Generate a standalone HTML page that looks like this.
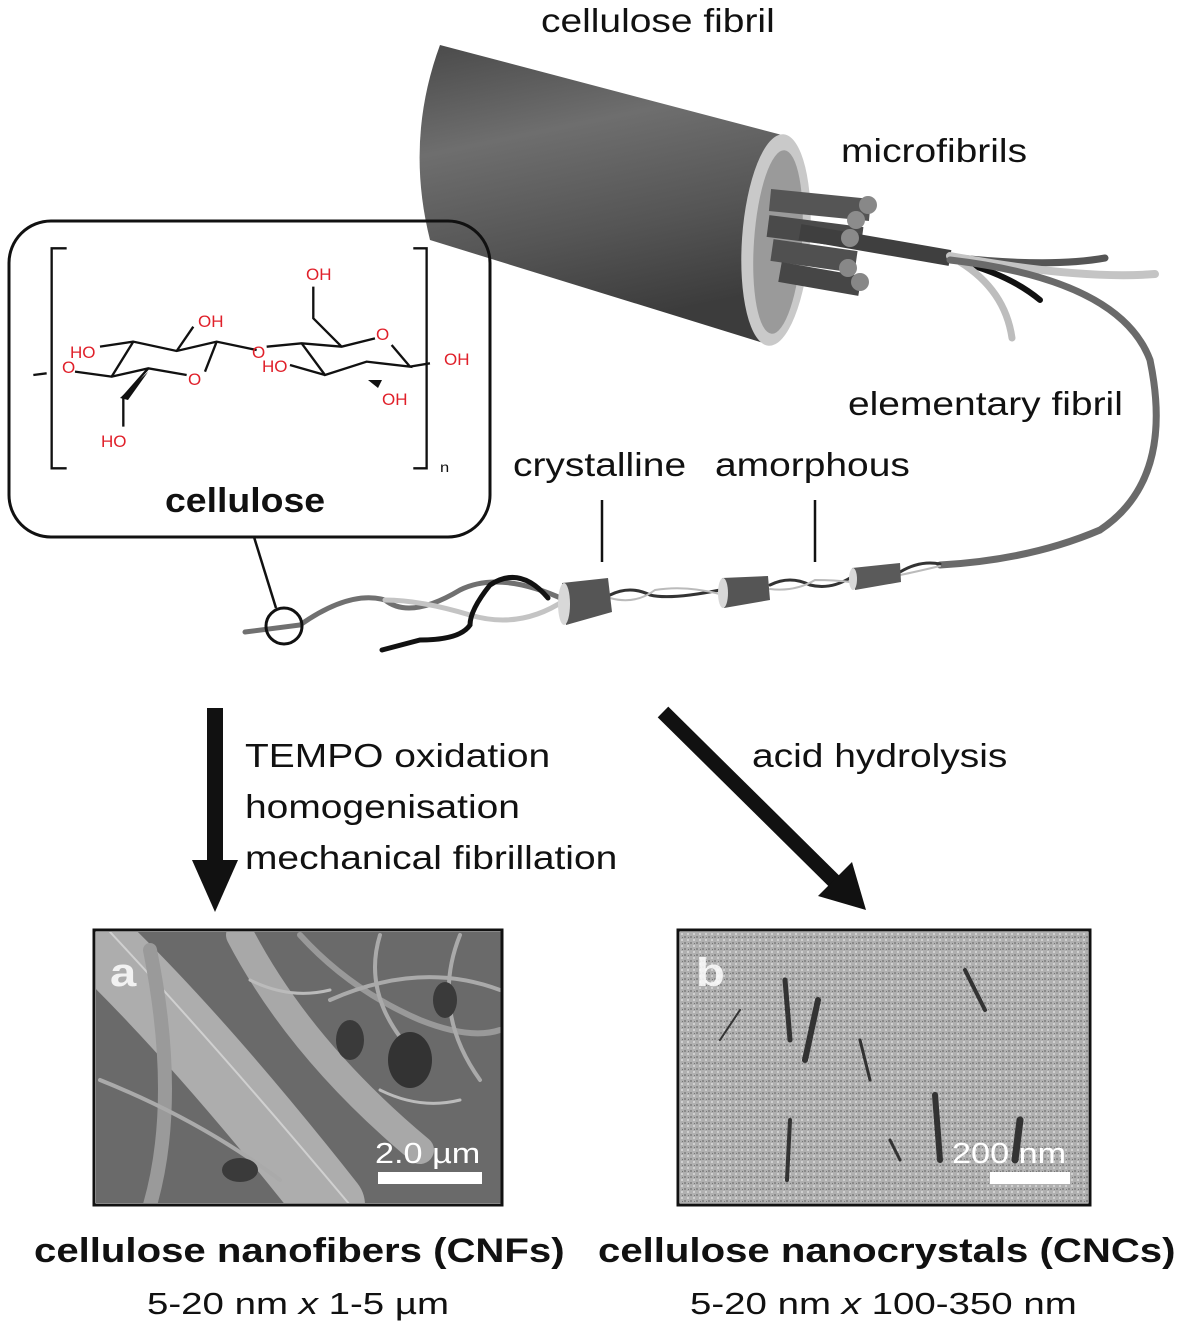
<!DOCTYPE html>
<html><head><meta charset="utf-8">
<style>
html,body{margin:0;padding:0;background:#fff;}
body{width:1177px;height:1330px;position:relative;overflow:hidden;font-family:"Liberation Sans","DejaVu Sans",sans-serif;}
.t{position:absolute;color:#111;font-size:33px;white-space:nowrap;line-height:1;transform-origin:0 0;transform:scaleX(1.18);}
.b{font-weight:bold;}
</style></head><body>
<svg width="1177" height="1330" style="position:absolute;left:0;top:0">
<defs>
<linearGradient id="cyl" x1="0" y1="0" x2="0.25" y2="1">
<stop offset="0" stop-color="#4a4a4a"/><stop offset="0.35" stop-color="#6e6e6e"/><stop offset="0.7" stop-color="#555"/><stop offset="1" stop-color="#3c3c3c"/>
</linearGradient>
<clipPath id="ca"><rect x="96" y="932" width="405" height="271"/></clipPath>
<clipPath id="cb"><rect x="680" y="932" width="408" height="271"/></clipPath>
<pattern id="dots" width="6" height="6" patternUnits="userSpaceOnUse">
<rect width="6" height="6" fill="#b0b0b0"/><rect x="0" y="0" width="2" height="2" fill="#8a8a8a"/><rect x="3" y="3" width="2" height="2" fill="#d0d0d0"/><rect x="4" y="1" width="1" height="1" fill="#777"/>
</pattern>
</defs>

<!-- big cylinder -->
<path d="M440,45 L782,135 L770,345 L430,240 Q405,140 440,45 Z" fill="url(#cyl)"/>
<ellipse cx="776" cy="240" rx="34" ry="106" fill="#c9c9c9" transform="rotate(4 776 240)"/>
<ellipse cx="778" cy="242" rx="24" ry="92" fill="#9a9a9a" transform="rotate(4 778 242)"/>
<g stroke-linecap="butt">
<path d="M770,200 L870,210" stroke="#555" stroke-width="22"/>
<path d="M768,226 L862,238" stroke="#4a4a4a" stroke-width="22"/>
<path d="M772,250 L856,262" stroke="#505050" stroke-width="22"/>
<path d="M780,272 L860,286" stroke="#464646" stroke-width="20"/>
<path d="M800,232 L950,258" stroke="#3f3f3f" stroke-width="16"/>
</g>
<circle cx="868" cy="205" r="9" fill="#888"/><circle cx="856" cy="220" r="9" fill="#8c8c8c"/>
<circle cx="850" cy="238" r="9" fill="#8a8a8a"/><circle cx="848" cy="268" r="9" fill="#888"/><circle cx="860" cy="282" r="9" fill="#878787"/>
<g fill="none" stroke-linecap="round">
<path d="M950,257 Q1050,268 1105,258" stroke="#555" stroke-width="7"/>
<path d="M950,256 Q1080,280 1155,274" stroke="#c4c4c4" stroke-width="8"/>
<path d="M960,262 Q1010,275 1040,300" stroke="#111" stroke-width="6"/>
<path d="M960,262 Q1005,290 1012,338" stroke="#bdbdbd" stroke-width="7"/>
<path d="M950,260 Q1120,280 1150,360 Q1175,480 1100,530 Q1030,560 940,565" stroke="#6a6a6a" stroke-width="7"/>
<path d="M565,600 Q500,570 460,590 Q410,620 385,600 Q350,590 300,625 L245,632" stroke="#707070" stroke-width="5"/>
<path d="M565,600 Q520,630 470,615 Q420,600 385,600" stroke="#c4c4c4" stroke-width="5"/>
<path d="M548,598 Q520,565 490,585 Q470,610 470,625 Q460,640 420,640 L382,650" stroke="#111" stroke-width="5"/>
<path d="M610,595 Q630,585 650,595 Q670,600 720,590 M770,585 Q790,575 810,585 Q830,590 850,578 M900,572 Q920,560 940,564" stroke="#333" stroke-width="3"/>
<path d="M610,598 Q635,605 655,590 Q685,585 720,594 M770,589 Q795,592 815,580 Q835,580 850,582 M900,575 Q915,572 940,566" stroke="#bbb" stroke-width="2"/>
</g>
<path d="M562,583 L608,578 L612,612 L566,625 Z" fill="#555"/>
<ellipse cx="564" cy="604" rx="6" ry="21" fill="#d8d8d8"/>
<path d="M722,578 L768,576 L770,600 L724,608 Z" fill="#555"/>
<ellipse cx="723" cy="593" rx="5" ry="15" fill="#d8d8d8"/>
<path d="M852,568 L900,563 L901,582 L855,590 Z" fill="#5a5a5a"/>
<ellipse cx="853" cy="579" rx="4" ry="11" fill="#d8d8d8"/>
<line x1="602" y1="500" x2="602" y2="562" stroke="#111" stroke-width="2.5"/>
<line x1="815" y1="500" x2="815" y2="562" stroke="#111" stroke-width="2.5"/>
<rect x="9" y="221" width="481" height="316" rx="42" fill="none" stroke="#111" stroke-width="3"/>
<line x1="254" y1="537" x2="276" y2="608" stroke="#111" stroke-width="2.5"/>
<circle cx="284" cy="626" r="18" fill="none" stroke="#111" stroke-width="3"/>
<rect x="207" y="708" width="16" height="155" fill="#111"/>
<polygon points="192,860 238,860 215,912" fill="#111"/>
<line x1="663" y1="712" x2="835" y2="882" stroke="#111" stroke-width="15"/>
<polygon points="818,896 852,862 866,910" fill="#111"/>
<!-- panel a -->
<rect x="96" y="932" width="405" height="271" fill="#6a6a6a"/>
<g fill="none" stroke-linecap="round" clip-path="url(#ca)">
<path d="M96,940 Q200,1040 330,1205" stroke="#b8b8b8" stroke-width="70" opacity="0.85"/>
<path d="M110,932 Q220,1050 350,1205" stroke="#d0d0d0" stroke-width="2"/>
<path d="M240,935 Q300,1050 420,1150" stroke="#a8a8a8" stroke-width="28"/>
<path d="M300,935 Q350,990 420,1020 Q470,1040 500,1030" stroke="#999" stroke-width="6"/>
<path d="M150,950 Q180,1100 150,1205" stroke="#9a9a9a" stroke-width="14"/>
<path d="M380,935 Q360,1000 420,1060 M460,935 Q430,1010 480,1080 M330,1000 Q420,960 500,990 M100,1080 Q200,1120 280,1180" stroke="#aaa" stroke-width="4"/>
<path d="M250,980 Q290,1000 330,990 M380,1090 Q420,1110 460,1100" stroke="#bbb" stroke-width="3"/>
<ellipse cx="410" cy="1060" rx="22" ry="28" fill="#333" stroke="none"/><ellipse cx="350" cy="1040" rx="14" ry="20" fill="#3a3a3a" stroke="none"/>
<ellipse cx="445" cy="1000" rx="12" ry="18" fill="#3a3a3a" stroke="none"/><ellipse cx="240" cy="1170" rx="18" ry="12" fill="#3a3a3a" stroke="none"/>
</g>
<rect x="94" y="930" width="408" height="275" fill="none" stroke="#111" stroke-width="3"/>
<rect x="378" y="1172" width="104" height="12" fill="#fff"/>
<!-- panel b -->
<rect x="680" y="932" width="408" height="271" fill="url(#dots)"/>
<g stroke="#333" stroke-linecap="round" fill="none" clip-path="url(#cb)">
<path d="M785,980 L790,1040" stroke-width="5"/><path d="M818,1000 L805,1060" stroke-width="6"/>
<path d="M860,1040 L870,1080" stroke-width="3"/><path d="M965,970 L985,1010" stroke-width="4"/>
<path d="M935,1095 L940,1160" stroke-width="6"/><path d="M1020,1120 L1015,1160" stroke-width="7"/>
<path d="M790,1120 L787,1180" stroke-width="4"/><path d="M720,1040 L740,1010" stroke-width="2"/>
<path d="M890,1140 L900,1160" stroke-width="3"/>
</g>
<rect x="678" y="930" width="412" height="275" fill="none" stroke="#111" stroke-width="3"/>
<rect x="990" y="1172" width="80" height="12" fill="#fff"/>
<!-- chemistry -->
<g transform="translate(0,220) scale(0.3333)" fill="none" stroke="#111" stroke-width="7">
<path d="M200,85 L155,85 L155,745 L200,745 M1240,85 L1280,85 L1280,745 L1240,745"/>
<path d="M100,465 L140,460 M225,455 L335,470 L400,365 L530,393 L650,365 L770,390 M335,470 L445,445 L560,465 M615,455 L650,365 M300,380 L400,365 M530,393 L580,320"/>
<path d="M445,445 L370,530 L370,620"/>
<path d="M800,380 L905,370 L1025,380 L1125,355 M1175,375 L1230,440 L1100,425 L975,465 L905,370 M870,435 L975,465 M1025,380 L940,295 L940,200 M1230,440 L1290,430"/>
</g>
<polygon points="148,372 120,398 128,400" fill="#111"/>
<polygon points="368,380 382,380 378,388" fill="#111"/>
</svg>
<div style="position:absolute;left:0;top:0;color:#e0202a;font-size:17px;font-family:'Liberation Sans',sans-serif;">
<span style="position:absolute;left:62px;top:358px">O</span>
<span style="position:absolute;left:70px;top:343px">HO</span>
<span style="position:absolute;left:198px;top:312px">OH</span>
<span style="position:absolute;left:188px;top:370px">O</span>
<span style="position:absolute;left:252px;top:343px">O</span>
<span style="position:absolute;left:262px;top:357px">HO</span>
<span style="position:absolute;left:306px;top:265px">OH</span>
<span style="position:absolute;left:376px;top:325px">O</span>
<span style="position:absolute;left:444px;top:350px">OH</span>
<span style="position:absolute;left:382px;top:390px">OH</span>
<span style="position:absolute;left:101px;top:432px">HO</span>
</div>
<div class="t" style="left:440px;top:460px;font-size:14px">n</div>
<div class="t b" style="left:165px;top:484px;font-size:34px;transform:scaleX(1.1)">cellulose</div>
<div class="t" style="left:541px;top:4px">cellulose fibril</div>
<div class="t" style="left:841px;top:134px">microfibrils</div>
<div class="t" style="left:848px;top:387px">elementary fibril</div>
<div class="t" style="left:513px;top:448px">crystalline</div>
<div class="t" style="left:715px;top:448px">amorphous</div>
<div class="t" style="left:245px;top:739px">TEMPO oxidation</div>
<div class="t" style="left:245px;top:790px">homogenisation</div>
<div class="t" style="left:245px;top:841px">mechanical fibrillation</div>
<div class="t" style="left:752px;top:739px">acid hydrolysis</div>
<div class="t b" style="left:110px;top:953px;color:#fff;font-size:40px;opacity:.85">a</div>
<div class="t b" style="left:696px;top:953px;color:#fff;font-size:40px;opacity:.85">b</div>
<div class="t" style="left:375px;top:1140px;color:#fff;font-size:29px">2.0 µm</div>
<div class="t" style="left:952px;top:1140px;color:#fff;font-size:29px">200 nm</div>
<div class="t b" style="left:34px;top:1234px;font-size:34px">cellulose nanofibers (CNFs)</div>
<div class="t b" style="left:598px;top:1234px;font-size:34px">cellulose nanocrystals (CNCs)</div>
<div class="t" style="left:147px;top:1288px;font-size:31px;transform:scaleX(1.24)">5-20 nm <i>x</i> 1-5 µm</div>
<div class="t" style="left:690px;top:1288px;font-size:31px;transform:scaleX(1.24)">5-20 nm <i>x</i> 100-350 nm</div>
</body></html>
